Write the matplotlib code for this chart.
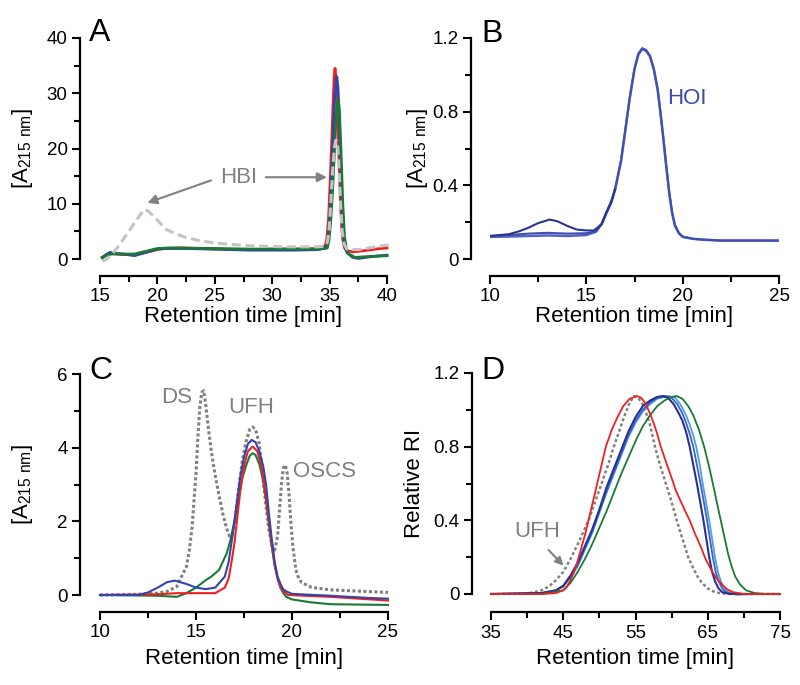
import matplotlib
matplotlib.use('Agg')
import matplotlib.pyplot as plt
from matplotlib.ticker import MultipleLocator, FixedLocator, FuncFormatter

plt.rcParams['font.family'] = ['Liberation Sans', 'DejaVu Sans']
plt.rcParams['mathtext.fontset'] = 'custom'
plt.rcParams['mathtext.rm'] = 'Liberation Sans'
plt.rcParams['mathtext.default'] = 'regular'

# ---- panel A data (HBI) ----
a_red_x = [15.2, 15.6, 16.0, 16.5, 17.0, 18.0, 19.0, 20.0, 20.5, 22, 25, 28, 30, 32, 34, 34.6, 34.75, 34.9, 35.05, 35.2, 35.3, 35.4, 35.47, 35.55, 35.65, 35.75, 35.85, 35.95, 36.05, 36.15, 36.3, 36.5, 37, 38, 39, 40]
a_red_y = [0.3, 0.8, 1.0, 0.9, 0.8, 0.8, 1.2, 1.7, 1.9, 2.0, 1.8, 1.7, 1.8, 1.8, 1.9, 2.3, 3.5, 7, 14, 22, 28, 33, 34.5, 33, 28, 22, 16, 10, 6, 3.5, 2.0, 1.5, 1.3, 1.5, 1.8, 2.0]
a_blue_x = [15.2, 15.6, 15.9, 16.3, 17.0, 18.0, 19.0, 20.0, 21, 22, 25, 28, 30, 32, 34, 34.7, 34.85, 35.0, 35.15, 35.3, 35.42, 35.53, 35.63, 35.73, 35.83, 35.93, 36.03, 36.15, 36.3, 36.5, 37.0, 37.5, 38.5, 40]
a_blue_y = [0.2, 0.9, 1.2, 1.0, 0.9, 0.6, 1.2, 1.8, 1.9, 1.9, 1.8, 1.6, 1.6, 1.6, 1.7, 2.0, 3.5, 7, 14, 22, 28, 31.5, 33, 31, 26, 19, 12, 6, 2.5, 1.2, 0.3, 0.1, 0.4, 0.7]
a_green_x = [15.2, 15.6, 16.0, 17.0, 18.0, 19.0, 20.0, 21, 22, 25, 28, 30, 32, 34, 34.8, 34.95, 35.1, 35.25, 35.4, 35.52, 35.63, 35.75, 35.85, 35.95, 36.05, 36.15, 36.3, 36.45, 36.6, 37.2, 38, 39, 40]
a_green_y = [0.3, 0.7, 0.9, 0.9, 0.9, 1.4, 1.9, 2.0, 2.0, 1.9, 1.8, 1.8, 1.8, 1.8, 2.0, 3.5, 7, 12, 18.5, 24, 27.5, 29, 27, 22, 16, 10, 4, 2, 1.0, 0.3, 0.4, 0.5, 0.6]
a_hbi_x = [15.2, 15.6, 16.0, 16.5, 17.0, 17.5, 18.0, 18.5, 18.9, 19.3, 20.0, 20.8, 22.3, 23.7, 25, 26.6, 28, 29.5, 31, 33.9, 34.6, 34.8, 34.95, 35.1, 35.25, 35.4, 35.55, 35.7, 35.8, 35.95, 36.1, 36.25, 36.5, 37.5, 39, 40.3]
a_hbi_y = [-0.4, 0.0, 0.8, 2.0, 3.5, 5.0, 6.5, 8.0, 9.0, 8.5, 7.0, 5.3, 4.0, 3.3, 2.9, 2.6, 2.4, 2.3, 2.2, 2.2, 2.3, 3, 5, 10, 15.5, 20, 21.5, 20.5, 17.5, 10, 5, 2.8, 1.8, 1.7, 2.2, 2.6]

# ---- panel B data (HOI) ----
b_x = [10, 11, 12, 13, 14, 15, 15.5, 15.8, 16.0, 16.3, 16.5, 16.8, 17.0, 17.25, 17.5, 17.7, 17.9, 18.1, 18.3, 18.5, 18.7, 18.85, 19.0, 19.15, 19.3, 19.45, 19.6, 19.8, 20, 20.5, 21, 22, 23, 24, 25]
b_y1 = [0.12, 0.122, 0.125, 0.128, 0.125, 0.13, 0.148, 0.19, 0.24, 0.31, 0.38, 0.53, 0.68, 0.87, 1.03, 1.11, 1.14, 1.13, 1.10, 1.03, 0.92, 0.79, 0.65, 0.5, 0.36, 0.25, 0.18, 0.14, 0.12, 0.11, 0.105, 0.1, 0.1, 0.1, 0.1]
b_y2 = [0.125, 0.13, 0.138, 0.142, 0.138, 0.14, 0.15, 0.192, 0.245, 0.315, 0.385, 0.535, 0.685, 0.875, 1.035, 1.115, 1.145, 1.135, 1.105, 1.035, 0.925, 0.795, 0.655, 0.505, 0.365, 0.255, 0.185, 0.142, 0.122, 0.11, 0.106, 0.1, 0.1, 0.1, 0.1]
b_bump_x = [10, 11, 11.5, 12, 12.5, 13.1, 13.5, 14, 14.5, 15, 15.4, 15.8, 16.0, 16.3, 16.5]
b_bump_y = [0.125, 0.135, 0.15, 0.17, 0.195, 0.214, 0.205, 0.18, 0.16, 0.155, 0.155, 0.19, 0.24, 0.31, 0.38]

# ---- panel C data ----
c_gray_x = [10, 12, 13, 13.5, 14, 14.5, 14.65, 14.8, 14.9, 15.0, 15.1, 15.2, 15.3, 15.4, 15.5, 15.65, 15.8, 16.0, 16.2, 16.4, 16.6, 16.75, 16.9, 17.05, 17.2, 17.4, 17.6, 17.8, 17.95, 18.1, 18.3, 18.5, 18.65, 18.8, 18.95, 19.1, 19.25, 19.35, 19.45, 19.55, 19.65, 19.75, 19.85, 19.95, 20.05, 20.2, 20.35, 20.5, 21, 22, 25]
c_gray_y = [0, 0.02, 0.05, 0.1, 0.23, 0.77, 1.2, 1.86, 2.6, 3.3, 4.3, 5.1, 5.5, 5.55, 5.2, 4.5, 3.9, 3.25, 2.7, 2.2, 1.8, 1.6, 1.65, 2.1, 2.8, 3.6, 4.15, 4.5, 4.56, 4.5, 4.1, 3.1, 2.4, 1.77, 1.35, 1.22, 1.6, 2.3, 3.0, 3.45, 3.53, 3.3, 2.7, 1.9, 1.3, 0.68, 0.45, 0.34, 0.21, 0.14, 0.07]
c_blue_x = [10, 12, 12.5, 13, 13.5, 13.9, 14.5, 15, 15.5, 16, 16.5, 16.7, 16.9, 17.1, 17.3, 17.5, 17.7, 17.9, 18.1, 18.3, 18.5, 18.65, 18.8, 18.95, 19.1, 19.25, 19.4, 19.55, 19.7, 20, 22, 24, 25]
c_blue_y = [0, 0.0, 0.07, 0.2, 0.35, 0.39, 0.3, 0.2, 0.16, 0.2, 0.5, 0.9, 1.6, 2.4, 3.2, 3.75, 4.1, 4.21, 4.15, 3.9, 3.5, 3.0, 2.2, 1.5, 0.9, 0.5, 0.3, 0.15, 0.1, 0.03, -0.02, -0.08, -0.1]
c_red_x = [10, 13, 14, 15, 16, 16.5, 16.7, 16.85, 17.0, 17.15, 17.3, 17.5, 17.7, 17.95, 18.2, 18.4, 18.6, 18.8, 18.95, 19.1, 19.25, 19.4, 19.6, 19.8, 22, 25]
c_red_y = [0, 0.02, 0.05, 0.05, 0.05, 0.2, 0.45, 0.9, 1.4, 2.1, 2.8, 3.5, 3.9, 4.03, 3.9, 3.5, 2.8, 2.0, 1.35, 0.8, 0.45, 0.2, 0.08, 0.0, -0.05, -0.15]
c_green_x = [10, 13, 14, 14.5, 15, 15.5, 15.8, 16.2, 16.6, 16.8, 17.0, 17.2, 17.4, 17.6, 17.8, 17.95, 18.1, 18.3, 18.5, 18.65, 18.8, 18.95, 19.1, 19.25, 19.4, 19.55, 19.7, 20, 21, 22, 25]
c_green_y = [0, -0.02, -0.05, 0.05, 0.2, 0.4, 0.5, 0.68, 1.13, 1.5, 2.0, 2.6, 3.15, 3.5, 3.78, 3.85, 3.8, 3.55, 3.1, 2.55, 1.9, 1.3, 0.8, 0.45, 0.2, 0.05, -0.05, -0.12, -0.2, -0.25, -0.27]

# ---- panel D data ----
d_gray_x = [35, 40, 41, 42, 43, 44, 45, 46, 47, 47.7, 48.5, 49.4, 50.3, 51.2, 52, 52.8, 53.5, 54.2, 54.8, 55.4, 56, 56.5, 57, 57.7, 58.4, 59.2, 60, 60.7, 61.5, 62.3, 63, 63.5, 64.2, 65, 66, 67, 70, 75]
d_gray_y = [0, 0.003, 0.01, 0.02, 0.04, 0.075, 0.12, 0.19, 0.27, 0.33, 0.4, 0.5, 0.6, 0.7, 0.8, 0.89, 0.97, 1.04, 1.075, 1.065, 1.03, 0.98, 0.92, 0.8, 0.7, 0.6, 0.5, 0.4, 0.3, 0.2, 0.14, 0.1, 0.06, 0.03, 0.01, 0.003, 0, 0]
d_dblue_x = [35, 42, 44, 45, 46, 47, 48, 49, 50, 51, 52, 53, 54, 55, 56, 57, 58, 58.8, 59.5, 60.3, 61, 61.5, 62, 62.5, 63, 63.5, 64, 64.4, 64.8, 65.2, 65.6, 66, 66.5, 67, 68, 75]
d_dblue_y = [0, 0.005, 0.02, 0.045, 0.1, 0.17, 0.26, 0.35, 0.46, 0.58, 0.68, 0.78, 0.88, 0.96, 1.02, 1.05, 1.07, 1.075, 1.065, 1.03, 0.98, 0.94, 0.88, 0.8, 0.7, 0.6, 0.49, 0.4, 0.3, 0.2, 0.12, 0.07, 0.03, 0.01, 0, 0]
d_mblue_x = [35, 42, 44, 45, 46, 47, 48, 49, 50, 51, 52, 53, 54, 55, 56, 57, 58, 59.2, 60, 60.8, 61.5, 62, 62.5, 63, 63.5, 64, 64.5, 64.9, 65.3, 65.7, 66.1, 66.5, 67, 67.5, 68.5, 75]
d_mblue_y = [0, 0.005, 0.02, 0.042, 0.095, 0.16, 0.25, 0.34, 0.45, 0.56, 0.66, 0.76, 0.86, 0.94, 1.0, 1.04, 1.065, 1.075, 1.065, 1.03, 0.98, 0.93, 0.87, 0.8, 0.7, 0.6, 0.49, 0.4, 0.3, 0.2, 0.12, 0.07, 0.03, 0.01, 0, 0]
d_lblue_x = [35, 42, 44, 45, 46, 47, 48, 49, 50, 51, 52, 53, 54, 55, 56, 57, 58, 59.6, 60.5, 61.2, 62, 62.5, 63, 63.4, 63.9, 64.3, 64.8, 65.2, 65.6, 66, 66.4, 66.8, 67.3, 67.8, 69, 71, 75]
d_lblue_y = [0, 0.005, 0.02, 0.04, 0.09, 0.15, 0.24, 0.33, 0.44, 0.55, 0.65, 0.75, 0.85, 0.93, 0.99, 1.03, 1.06, 1.075, 1.065, 1.03, 0.97, 0.92, 0.86, 0.8, 0.7, 0.6, 0.49, 0.4, 0.3, 0.2, 0.12, 0.07, 0.03, 0.01, -0.004, 0, 0]
d_green_x = [35, 42, 45, 46, 47, 48, 49, 50, 51, 52, 53, 54, 55, 56, 57, 58, 59, 60, 60.7, 61.5, 62.3, 63, 63.8, 64.5, 65.2, 65.7, 66.3, 66.8, 67.3, 67.8, 68.3, 68.8, 69.5, 70.3, 71.5, 73, 75]
d_green_y = [0, 0.0, 0.02, 0.06, 0.12, 0.19, 0.27, 0.36, 0.45, 0.55, 0.65, 0.74, 0.83, 0.91, 0.97, 1.02, 1.05, 1.07, 1.075, 1.06, 1.02, 0.97, 0.89, 0.8, 0.69, 0.6, 0.49, 0.4, 0.31, 0.22, 0.15, 0.095, 0.05, 0.02, 0.005, 0, 0]
d_red_x = [35, 42, 44, 45, 45.5, 46, 46.5, 47, 47.5, 48, 48.5, 49.1, 49.7, 50.3, 50.9, 51.7, 52.5, 53.3, 54.2, 55.2, 55.8, 56.3, 56.9, 57.5, 58, 58.5, 59.2, 60, 60.6, 61.3, 62, 62.5, 63.2, 64, 64.7, 65.5, 66.2, 67, 67.7, 68.5, 70, 75]
d_red_y = [0, 0, 0.005, 0.02, 0.04, 0.075, 0.12, 0.18, 0.25, 0.32, 0.4, 0.5, 0.6, 0.7, 0.8, 0.89, 0.96, 1.02, 1.06, 1.075, 1.065, 1.04, 0.99, 0.93, 0.87, 0.8, 0.72, 0.63, 0.56, 0.5, 0.44, 0.4, 0.33, 0.26, 0.19, 0.13, 0.085, 0.05, 0.025, 0.01, 0, 0]

d_xticks = [35, 45, 55, 65, 75]
d_xminor = [40, 50, 60, 70]

RED = '#f02020'
BLUE = '#3344aa'
GREEN = '#1a7a35'
GRAY = '#808080'

W, H = 800, 685
fig = plt.figure(figsize=(8, 6.85), dpi=100)


def make_axes(l, r, t, b):
    return fig.add_axes([l / W, 1 - b / H, (r - l) / W, (b - t) / H])


def style(ax, xlim, ylim, xmaj, xmin, ymaj, ymin, left_out, bottom_out, yfmt=None):
    ax.set_xlim(*xlim)
    ax.set_ylim(*ylim)
    ax.spines['top'].set_visible(False)
    ax.spines['right'].set_visible(False)
    ax.spines['left'].set_position(('outward', left_out))
    ax.spines['bottom'].set_position(('outward', bottom_out))
    for s in ('left', 'bottom'):
        ax.spines[s].set_linewidth(1.6)
    ax.xaxis.set_major_locator(MultipleLocator(xmaj))
    ax.xaxis.set_minor_locator(MultipleLocator(xmin))
    ax.yaxis.set_major_locator(MultipleLocator(ymaj))
    ax.yaxis.set_minor_locator(MultipleLocator(ymin))
    ax.tick_params(which='major', direction='out', length=6, width=1.5, labelsize=13.5, pad=3)
    ax.tick_params(which='minor', direction='out', length=4, width=1.5)
    if yfmt:
        ax.yaxis.set_major_formatter(FuncFormatter(yfmt))
    ax.patch.set_visible(False)


def fmt1(v, p):
    return '0' if abs(v) < 1e-9 else f'{v:.1f}'


YLAB = r'[A$_{215\ nm}$]'

# ---- A ----
axA = make_axes(100, 387, 38, 259)
style(axA, (15, 40), (0, 40), 5, 2.5, 10, 5, 14.4, 12.2)
axA.plot(a_red_x, a_red_y, color=RED, lw=2.0, clip_on=False)
axA.plot(a_blue_x, a_blue_y, color=BLUE, lw=2.0, clip_on=False)
axA.plot(a_green_x, a_green_y, color=GREEN, lw=2.0, clip_on=False)
axA.plot(a_hbi_x, a_hbi_y, color='#c4c4c4', lw=2.2, ls=(0, (3, 1.5)), clip_on=False)
axA.text(27.1, 14.8, 'HBI', color=GRAY, fontsize=16, ha='center', va='center')
axA.annotate('', xy=(18.9, 10.0), xytext=(24.9, 14.4),
             arrowprops=dict(arrowstyle='-|>', color=GRAY, lw=1.5, mutation_scale=14))
axA.annotate('', xy=(35.0, 14.8), xytext=(29.2, 14.8),
             arrowprops=dict(arrowstyle='-|>', color=GRAY, lw=1.5, mutation_scale=14))
axA.set_ylabel(YLAB, fontsize=16)
axA.set_xlabel('Retention time [min]', fontsize=16)

# ---- B ----
axB = make_axes(490, 779, 38, 259)
style(axB, (10, 25), (0, 1.2), 5, 2.5, 0.4, 0.2, 13.7, 12.2, fmt1)
axB.plot(b_x, b_y1, color='#5563c0', lw=1.8)
axB.plot(b_x, b_y2, color='#4050b0', lw=1.5)
axB.plot(b_bump_x, b_bump_y, color='#2a3590', lw=1.5)
axB.text(19.2, 0.87, 'HOI', color='#3a48a8', fontsize=16, ha='left', va='center')
axB.set_ylabel(YLAB, fontsize=16)
axB.set_xlabel('Retention time [min]', fontsize=16)

# ---- C ----
axC = make_axes(100, 388, 374, 595)
style(axC, (10, 25), (0, 6), 5, 2.5, 2, 1, 14.4, 12.2)
axC.plot(c_gray_x, c_gray_y, color=GRAY, lw=2.2, ls=(0, (1, 0.8)), clip_on=False)
axC.plot(c_green_x, c_green_y, color=GREEN, lw=1.5, clip_on=False)
axC.plot(c_red_x, c_red_y, color=RED, lw=1.5, clip_on=False)
axC.plot(c_blue_x, c_blue_y, color=BLUE, lw=1.5, clip_on=False)
axC.text(14.0, 5.35, 'DS', color=GRAY, fontsize=16, ha='center', va='center')
axC.text(17.9, 5.08, 'UFH', color=GRAY, fontsize=16, ha='center', va='center')
axC.text(21.7, 3.35, 'OSCS', color=GRAY, fontsize=16, ha='center', va='center')
axC.set_ylabel(YLAB, fontsize=16)
axC.set_xlabel('Retention time [min]', fontsize=16)

# ---- D ----
axD = make_axes(491, 780, 373, 594)
style(axD, (35, 75), (0, 1.2), 10, 5, 0.4, 0.2, 13.7, 13.0, fmt1)
axD.xaxis.set_major_locator(FixedLocator(d_xticks))
axD.xaxis.set_minor_locator(FixedLocator(d_xminor))
axD.plot(d_gray_x, d_gray_y, color=GRAY, lw=1.8, ls=(0, (1.2, 1)), clip_on=False)
axD.plot(d_lblue_x, d_lblue_y, color='#4aa0e0', lw=1.3, clip_on=False)
axD.plot(d_mblue_x, d_mblue_y, color='#3a62cc', lw=1.3, clip_on=False)
axD.plot(d_dblue_x, d_dblue_y, color='#2b2f8f', lw=1.5, clip_on=False)
axD.plot(d_green_x, d_green_y, color=GREEN, lw=1.3, clip_on=False)
axD.plot(d_red_x, d_red_y, color=RED, lw=1.3, clip_on=False)
axD.text(41.4, 0.338, 'UFH', color=GRAY, fontsize=16, ha='center', va='center')
axD.annotate('', xy=(45.3, 0.143), xytext=(42.7, 0.25),
             arrowprops=dict(arrowstyle='-|>', color=GRAY, lw=1.5, mutation_scale=12))
axD.set_ylabel('Relative RI', fontsize=16)
axD.set_xlabel('Retention time [min]', fontsize=16)

# label positions
axA.yaxis.set_label_coords((35 - 100) / 287, 0.5)
axB.yaxis.set_label_coords((430 - 490) / 289, 0.5)
axC.yaxis.set_label_coords((35 - 100) / 288, 0.5)
axD.yaxis.set_label_coords((425 - 491) / 289, 0.5)
axA.xaxis.set_label_coords(0.5, (259 - 306) / 221)
axB.xaxis.set_label_coords(0.5, (259 - 306) / 221)
axC.xaxis.set_label_coords(0.5, (595 - 648) / 221)
axD.xaxis.set_label_coords(0.5, (594 - 648) / 221)

# panel letters
for x, y, s in [(89, 18, 'A'), (481, 19, 'B'), (89, 356, 'C'), (481, 356, 'D')]:
    fig.text(x / W, 1 - y / H, s, fontsize=23, ha='left', va='top')

fig.savefig('out.png', dpi=100)
